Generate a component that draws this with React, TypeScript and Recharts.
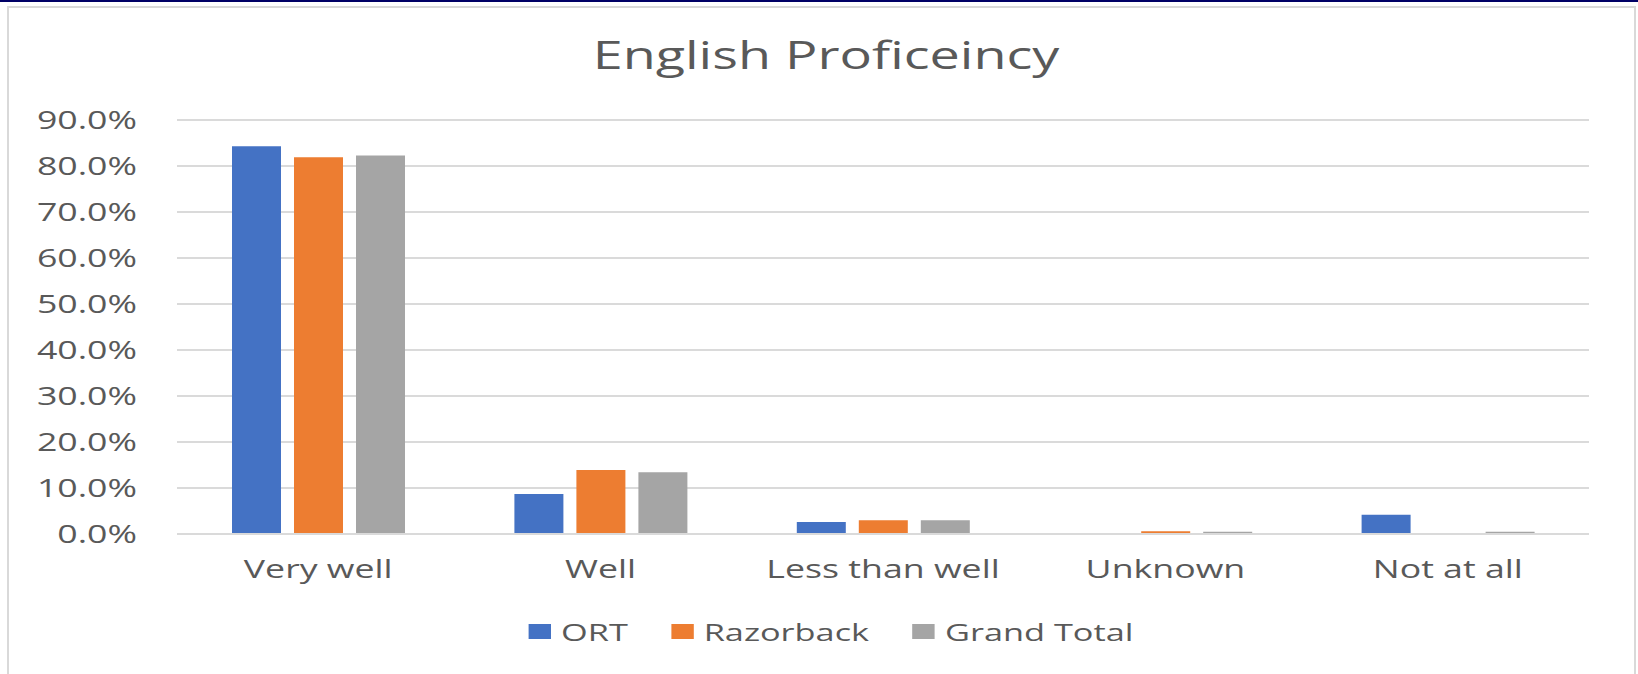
import React from "react";
import { BarChart, Bar, XAxis, YAxis, CartesianGrid } from "recharts";

const categories = ["Very well", "Well", "Less than well", "Unknown", "Not at all"];
const ortValues = [84.3, 8.7, 2.6, 0, 4.2];
const razorbackValues = [81.9, 13.9, 3.0, 0.6, 0];
const grandTotalValues = [82.3, 13.4, 3.0, 0.5, 0.5];
const seriesNames = ["ORT", "Razorback", "Grand Total"];
const seriesKeys = ["ort", "razorback", "grandTotal"];
const seriesColors = ["#4472C4", "#ED7D31", "#A5A5A5"];
const yTicks = [0, 10, 20, 30, 40, 50, 60, 70, 80, 90];
const title = "English Proficeincy";

const data = categories.map((c, i) => ({
  name: c,
  ort: ortValues[i],
  razorback: razorbackValues[i],
  grandTotal: grandTotalValues[i],
}));

const SX = 1.4;
const FONT = "'Open Sans', sans-serif";
const TEXT = "#595959";
const GRID = "#dadada";

const YTick = (props: any) => {
  const { x, y, payload } = props;
  return (
    <text
      transform={`translate(${x},${y}) scale(${SX},1)`}
      textAnchor="end"
      fontSize={25.5}
      fontFamily={FONT}
      fill={TEXT}
      dy={8.6}
    >
      {`${Number(payload.value).toFixed(1)}%`}
    </text>
  );
};

const XTick = (props: any) => {
  const { x, y, payload } = props;
  return (
    <text
      transform={`translate(${x},${y}) scale(${SX},1)`}
      textAnchor="middle"
      fontSize={25.5}
      fontFamily={FONT}
      fill={TEXT}
      dy={44.3}
    >
      {payload.value}
    </text>
  );
};

export default function App() {
  return (
    <div
      style={{
        position: "fixed",
        left: 0,
        top: 0,
        width: 1638,
        height: 674,
        overflow: "hidden",
        background: "#ffffff",
      }}
    >
      <div style={{ position: "absolute", left: 0, top: 0, width: 1638, height: 2, background: "#000066" }} />
      <div
        style={{
          position: "absolute",
          left: 7,
          top: 6,
          width: 1629,
          height: 700,
          boxSizing: "border-box",
          borderTop: "2px solid #d9d9d9",
          borderLeft: "2px solid #d9d9d9",
          borderRight: "2px solid #d9d9d9",
        }}
      />
      <div style={{ position: "absolute", left: 0, top: 0 }}>
        <BarChart
          width={1638}
          height={674}
          data={data}
          margin={{ top: 120, right: 49, bottom: 100, left: 37 }}
          barSize={49}
          barGap={13}
        >
          <CartesianGrid vertical={false} stroke={GRID} strokeWidth={2} />
          <XAxis
            dataKey="name"
            height={40}
            tickSize={0}
            tickMargin={0}
            tickLine={false}
            axisLine={{ stroke: GRID, strokeWidth: 2 }}
            tick={<XTick />}
            interval={0}
          />
          <YAxis
            width={140}
            domain={[0, 90]}
            ticks={yTicks}
            tickSize={0}
            tickMargin={40}
            tickLine={false}
            axisLine={false}
            tick={<YTick />}
            interval={0}
          />
          {seriesKeys.map((k, i) => (
            <Bar key={k} dataKey={k} name={seriesNames[i]} fill={seriesColors[i]} isAnimationActive={false} />
          ))}
        </BarChart>
      </div>
      <svg
        width={1638}
        height={674}
        style={{ position: "absolute", left: 0, top: 0, pointerEvents: "none" }}
      >
        <text
          transform={`translate(826,69.3) scale(1.39,1)`}
          textAnchor="middle"
          fontSize={38.8}
          fontFamily={FONT}
          fill={TEXT}
        >
          {title}
        </text>
      </svg>
      <div
        style={{
          position: "absolute",
          left: 12,
          top: 618.5,
          width: 1638,
          height: 25,
          display: "flex",
          justifyContent: "center",
          alignItems: "center",
          transform: `scaleX(${SX})`,
          transformOrigin: "center",
          fontFamily: FONT,
          fontSize: 24.5,
          color: TEXT,
        }}
      >
        {seriesNames.map((n, i) => (
          <div
            key={n}
            style={{
              display: "flex",
              alignItems: "center",
              marginRight: i < seriesNames.length - 1 ? 31 : 0,
            }}
          >
            <span style={{ display: "inline-block", width: 15.7, height: 15, background: seriesColors[i], marginRight: 7.5 }} />
            <span style={{ lineHeight: "25px", whiteSpace: "nowrap" }}>{n}</span>
          </div>
        ))}
      </div>
    </div>
  );
}
